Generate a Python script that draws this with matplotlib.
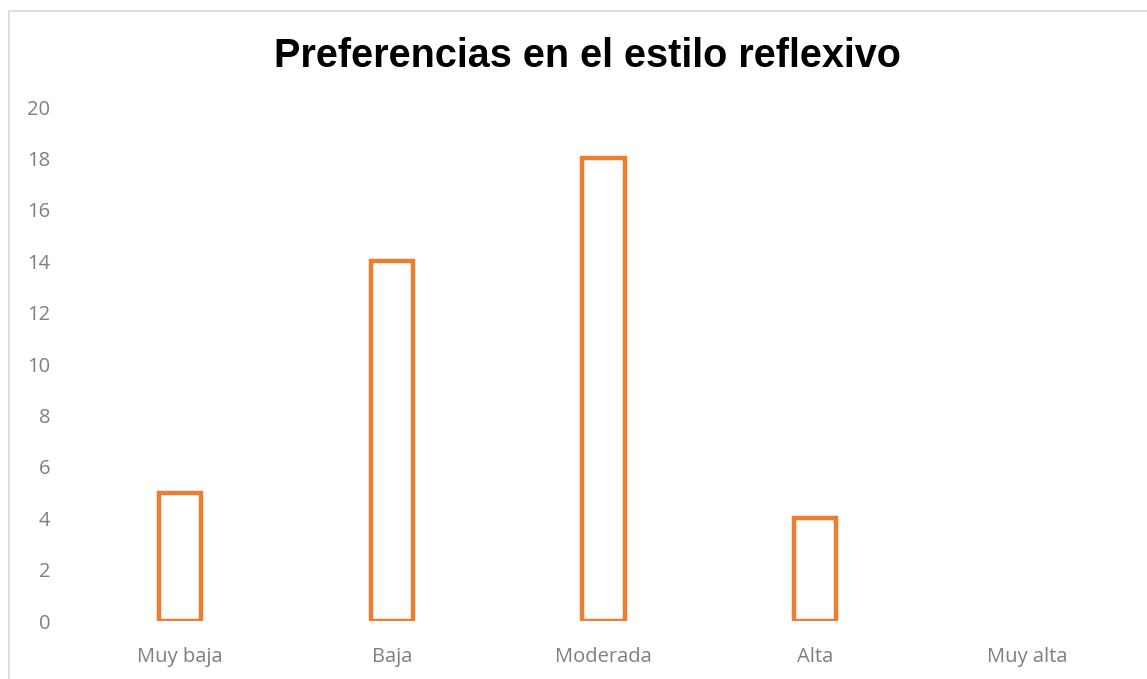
import matplotlib.pyplot as plt
from matplotlib.patches import Rectangle

categories = ["Muy baja", "Baja", "Moderada", "Alta", "Muy alta"]
counts = [5, 14, 18, 4, 0]
yticks = list(range(0, 21, 2))

orange = "#ED7D31"
grey = "#7F7F7F"

fig = plt.figure(figsize=(11.47, 6.79), dpi=100)
ax = fig.add_axes([0.0645, 0.0854, 0.9233, 0.757])

x = range(len(categories))
bars = ax.bar(x, counts, width=0.2, facecolor="white", edgecolor=orange, linewidth=3.2)
# empty categories get no outline at all
for b, v in zip(bars, counts):
    if v == 0:
        b.set_visible(False)

ax.set_xlim(-0.5, len(categories) - 0.5)
ax.set_ylim(0, 20)
ax.set_yticks(yticks)
ax.set_xticks(list(x))
ax.set_xticklabels(categories)

for side in ax.spines.values():
    side.set_visible(False)
ax.tick_params(axis="both", length=0, labelsize=14.5, labelcolor=grey, labelfontfamily="Open Sans")
ax.tick_params(axis="y", pad=17)
ax.tick_params(axis="x", pad=19)

fig.text(0.512, 0.918, "Preferencias en el estilo reflexivo", ha="center", va="center",
         fontsize=28.5, fontweight="bold", family="Liberation Sans")

# outer chart frame
fig.patches.append(Rectangle((9 / 1147, -0.1), 1.2, 1.1 - 11 / 679,
                             transform=fig.transFigure, fill=False,
                             edgecolor="#D9D9D9", linewidth=1.2))

fig.savefig("out.png", dpi=100)
